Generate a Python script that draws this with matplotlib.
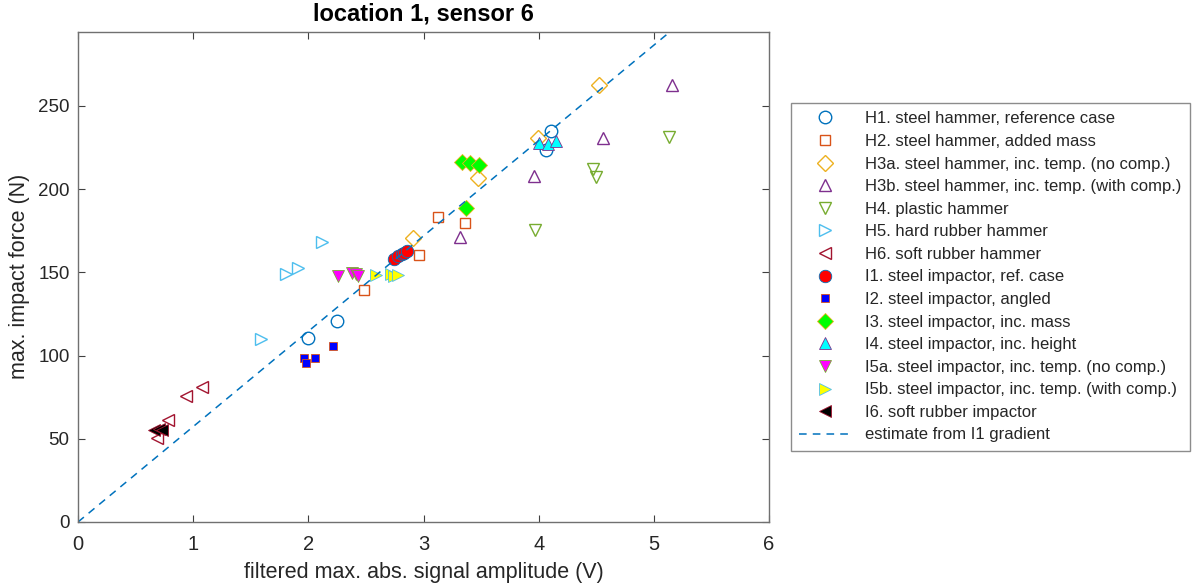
import matplotlib
matplotlib.use("Agg")
import matplotlib.pyplot as plt
import numpy as np

plt.rcParams['font.family'] = ['Liberation Sans', 'DejaVu Sans']

# ---- data ----
h1_x = [2.00, 2.25, 4.06, 4.11]
h1_y = [110.6, 121.0, 223.5, 235.0]
h2_x = [2.48, 2.96, 3.13, 3.36]
h2_y = [139.4, 160.5, 183.3, 179.7]
h3a_x = [2.91, 3.47, 3.99, 4.52]
h3a_y = [170.7, 206.7, 230.7, 262.6]
h3b_x = [3.32, 3.96, 4.56, 5.16]
h3b_y = [171.3, 208.0, 230.6, 262.6]
h4_x = [3.97, 4.47, 4.50, 5.13]
h4_y = [175.5, 212.0, 207.0, 231.6]
h5_x = [1.59, 1.81, 1.91, 2.12]
h5_y = [110.0, 149.0, 152.8, 168.0]
h6_x = [0.69, 0.78, 0.94, 1.08]
h6_y = [50.3, 61.3, 75.7, 81.3]
i1_x = [2.74, 2.78, 2.81, 2.83, 2.86]
i1_y = [158.3, 159.8, 161.0, 161.8, 162.8]
i2_x = [1.96, 1.98, 2.06, 2.21]
i2_y = [98.4, 95.6, 98.8, 105.8]
i3_x = [3.33, 3.40, 3.48, 3.37]
i3_y = [216.5, 216.0, 214.5, 188.5]
i4_x = [4.00, 4.08, 4.15]
i4_y = [227.5, 227.0, 229.0]
i5a_x = [2.26, 2.38, 2.41, 2.43]
i5a_y = [147.8, 149.8, 149.0, 147.8]
i5b_x = [2.59, 2.72, 2.74, 2.78]
i5b_y = [148.6, 149.2, 147.6, 148.6]
i6_x = [0.66, 0.70, 0.73]
i6_y = [55.2, 55.8, 55.0]
i1_gradient = 57.3
line_x = [0.0, 6.0]

labels = [
    "H1. steel hammer, reference case",
    "H2. steel hammer, added mass",
    "H3a. steel hammer, inc. temp. (no comp.)",
    "H3b. steel hammer, inc. temp. (with comp.)",
    "H4. plastic hammer",
    "H5. hard rubber hammer",
    "H6. soft rubber hammer",
    "I1. steel impactor, ref. case",
    "I2. steel impactor, angled",
    "I3. steel impactor, inc. mass",
    "I4. steel impactor, inc. height",
    "I5a. steel impactor, inc. temp. (no comp.)",
    "I5b. steel impactor, inc. temp. (with comp.)",
    "I6. soft rubber impactor",
    "estimate from I1 gradient",
]

C = ['#0072BD', '#D95319', '#EDB120', '#7E2F8E', '#77AC30', '#4DBEEE', '#A2142F']

fig = plt.figure(figsize=(11.94, 5.87), dpi=100)
ax = fig.add_axes([78/1194, 65/587, (769-78)/1194, (522-31.7)/587])

ms = 9
ax.plot(h1_x, h1_y, 'o', ls='none', mfc='none', mec=C[0], ms=ms, mew=1.0, label=labels[0])
ax.plot(h2_x, h2_y, 's', ls='none', mfc='none', mec=C[1], ms=7, mew=1.0, label=labels[1])
ax.plot(h3a_x, h3a_y, 'D', ls='none', mfc='none', mec=C[2], ms=8, mew=1.0, label=labels[2])
ax.plot(h3b_x, h3b_y, '^', ls='none', mfc='none', mec=C[3], ms=ms, mew=1.0, label=labels[3])
ax.plot(h4_x, h4_y, 'v', ls='none', mfc='none', mec=C[4], ms=ms, mew=1.0, label=labels[4])
ax.plot(h5_x, h5_y, '>', ls='none', mfc='none', mec=C[5], ms=ms, mew=1.0, label=labels[5])
ax.plot(h6_x, h6_y, '<', ls='none', mfc='none', mec=C[6], ms=ms, mew=1.0, label=labels[6])
ax.plot(i1_x, i1_y, 'o', ls='none', mfc='#FF0000', mec=C[0], ms=ms, mew=0.6, label=labels[7])
ax.plot(i2_x, i2_y, 's', ls='none', mfc='#0000FF', mec=C[1], ms=6, mew=0.6, label=labels[8])
ax.plot(i3_x, i3_y, 'D', ls='none', mfc='#00FF00', mec=C[2], ms=8, mew=0.6, label=labels[9])
ax.plot(i4_x, i4_y, '^', ls='none', mfc='#00FFFF', mec=C[3], ms=ms, mew=0.6, label=labels[10])
ax.plot(i5a_x, i5a_y, 'v', ls='none', mfc='#FF00FF', mec=C[4], ms=ms, mew=0.6, label=labels[11])
ax.plot(i5b_x, i5b_y, '>', ls='none', mfc='#FFFF00', mec=C[5], ms=ms, mew=0.6, label=labels[12])
ax.plot(i6_x, i6_y, '<', ls='none', mfc='#000000', mec=C[6], ms=ms, mew=0.6, label=labels[13])
ax.plot(line_x, [i1_gradient * v for v in line_x], ls=(0, (5, 4)), color=C[0], lw=1.1,
        label=labels[14])

ax.set_xlim(0, 6)
ax.set_ylim(0, 294.6)
ax.set_xticks([0, 1, 2, 3, 4, 5, 6])
ax.set_yticks([0, 50, 100, 150, 200, 250])
gray = '#262626'
for s in ax.spines.values():
    s.set_color('#707070')
    s.set_linewidth(1.0)
ax.tick_params(direction='in', top=True, right=True, length=5, width=0.8,
               color='#404040', labelsize=13.5, labelcolor=gray, pad=6)
ax.tick_params(axis='x', labelsize=14.5, pad=9)
ax.set_xlabel("filtered max. abs. signal amplitude (V)", fontsize=15.5, color=gray, labelpad=6)
ax.set_ylabel("max. impact force (N)", fontsize=15.5, color=gray, labelpad=6)
ax.set_title("location 1, sensor 6", fontsize=17, fontweight='bold', pad=8)

leg = ax.legend(loc='upper left', bbox_to_anchor=(791/1194, 1-103/587),
                bbox_transform=fig.transFigure, borderaxespad=0, fontsize=12,
                frameon=True, fancybox=False, edgecolor='#707070', labelspacing=0.455,
                handlelength=3.1, handletextpad=0.85, borderpad=0.5)
leg.get_frame().set_linewidth(1.0)
for t in leg.get_texts():
    t.set_color(gray)

fig.savefig("out.png", dpi=100)
